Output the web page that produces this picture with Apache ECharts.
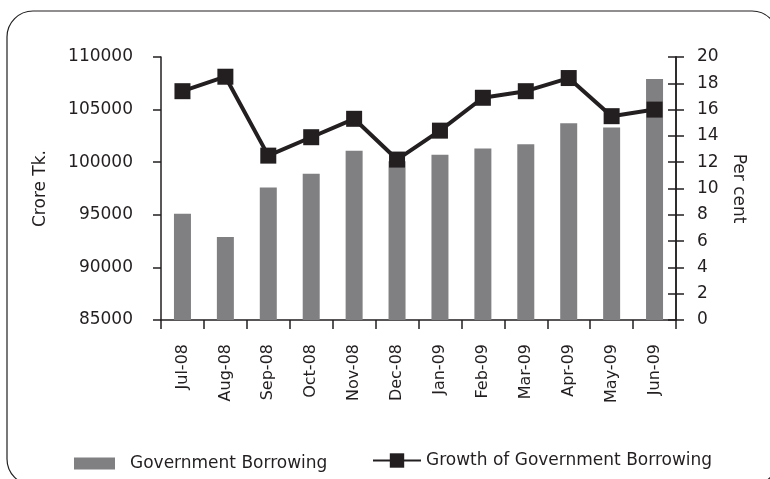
<!DOCTYPE html>
<html>
<head>
<meta charset="utf-8">
<script src="https://cdn.jsdelivr.net/npm/echarts@6/dist/echarts.min.js"></script>
<style>
  html, body { margin: 0; padding: 0; background: #ffffff; }
  #chart { width: 770px; height: 479px; }
</style>
</head>
<body>
<div id="chart"></div>
<script>
// Monthly government borrowing (Crore Tk.) and its growth (per cent)
const months = ['Jul-08', 'Aug-08', 'Sep-08', 'Oct-08', 'Nov-08', 'Dec-08',
                'Jan-09', 'Feb-09', 'Mar-09', 'Apr-09', 'May-09', 'Jun-09'];
const borrowing = [95100, 92900, 97600, 98900, 101100, 100100,
                   100700, 101300, 101700, 103700, 103300, 107900];
const growth = [17.4, 18.5, 12.5, 13.9, 15.3, 12.2,
                14.4, 16.9, 17.4, 18.4, 15.5, 16.0];

const INK = '#231f20';
const BAR = '#808083';
const FONT = 'DejaVu Sans';

const chart = echarts.init(document.getElementById('chart'), null, { renderer: 'canvas' });

chart.setOption({
  animation: false,
  backgroundColor: '#ffffff',
  textStyle: { fontFamily: FONT, color: INK },
  graphic: [{
    type: 'rect',
    shape: { x: 7, y: 11, width: 771, height: 474, r: 26 },
    style: { fill: 'none', stroke: INK, lineWidth: 1.2 },
    silent: true,
    z: -1
  }],
  grid: { left: 161, right: 94, top: 57, bottom: 159, containLabel: false },
  legend: [{
    data: [{ name: 'Government Borrowing', icon: 'rect' }],
    left: 69, top: 450,
    itemWidth: 41, itemHeight: 12,
    textStyle: { fontFamily: FONT, fontSize: 17, color: INK, padding: [0, 0, 0, 10] }
  }, {
    data: ['Growth of Government Borrowing'],
    left: 367, top: 447,
    itemWidth: 48, itemHeight: 18,
    textStyle: { fontFamily: FONT, fontSize: 17, color: INK }
  }],
  xAxis: {
    type: 'category',
    data: months,
    boundaryGap: true,
    axisLine: { lineStyle: { color: INK, width: 1.5 } },
    axisTick: { show: true, length: 9, interval: 0, lineStyle: { color: INK, width: 1.5 } },
    axisLabel: { rotate: 90, interval: 0, margin: 24, fontSize: 16, color: INK, fontFamily: FONT }
  },
  yAxis: [{
    type: 'value',
    position: 'left',
    min: 85000, max: 110000, interval: 5000,
    name: 'Crore Tk.',
    nameLocation: 'middle',
    nameGap: 112,
    nameRotate: 90,
    nameTextStyle: { fontSize: 17, color: INK, fontFamily: FONT },
    axisLine: { show: true, lineStyle: { color: INK, width: 1.5 } },
    axisTick: { show: true, length: 8, lineStyle: { color: INK, width: 1.5 } },
    axisLabel: { margin: 28, fontSize: 17, color: INK, fontFamily: FONT,
                 formatter: v => String(v) },
    splitLine: { show: false }
  }, {
    type: 'value',
    position: 'right',
    min: 0, max: 20, interval: 2,
    name: 'Per cent',
    nameLocation: 'middle',
    nameGap: 52,
    nameRotate: -90,
    nameTextStyle: { fontSize: 17, color: INK, fontFamily: FONT },
    axisLine: { show: true, lineStyle: { color: INK, width: 1.5 } },
    axisTick: { show: true, length: 8, lineStyle: { color: INK, width: 1.5 } },
    axisLabel: { margin: 21, fontSize: 17, color: INK, fontFamily: FONT },
    splitLine: { show: false }
  }, {
    // inner half of the crossing ticks on the percent axis
    type: 'value',
    position: 'right',
    min: 0, max: 20, interval: 2,
    axisLine: { show: true, lineStyle: { color: INK, width: 1.5 } },
    axisTick: { show: true, inside: true, length: 8, lineStyle: { color: INK, width: 1.5 } },
    axisLabel: { show: false },
    splitLine: { show: false }
  }],
  series: [{
    name: 'Government Borrowing',
    type: 'bar',
    yAxisIndex: 0,
    data: borrowing,
    barWidth: 17,
    itemStyle: { color: BAR },
    z: 2
  }, {
    name: 'Growth of Government Borrowing',
    type: 'line',
    yAxisIndex: 1,
    data: growth,
    symbol: 'rect',
    symbolSize: 16,
    lineStyle: { color: INK, width: 4 },
    itemStyle: { color: INK },
    z: 3
  }]
});
</script>
</body>
</html>
